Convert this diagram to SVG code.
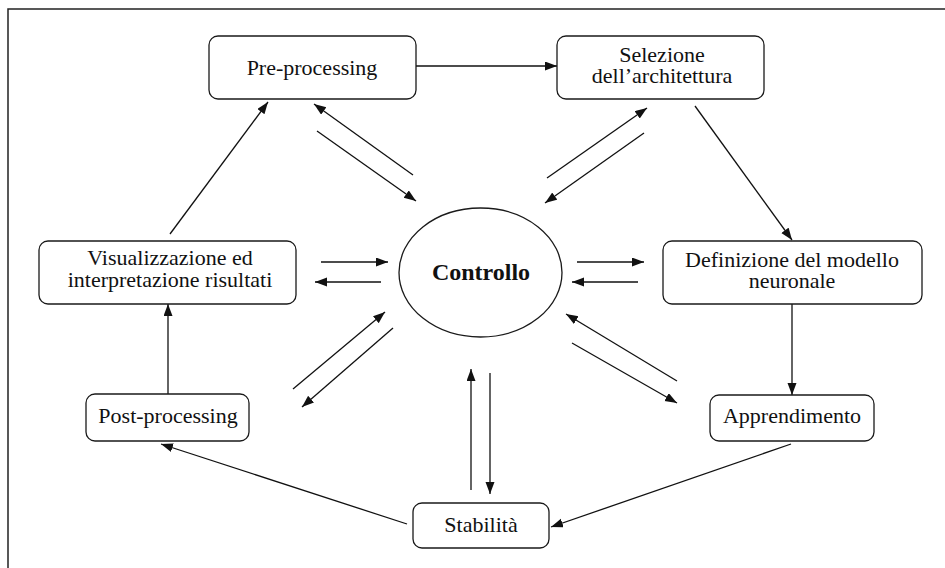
<svg xmlns="http://www.w3.org/2000/svg" width="945" height="568" viewBox="0 0 945 568">
<style>
.box{fill:#fff;stroke:#1a1a1a;stroke-width:1.3}
.t{font-family:"Liberation Serif","Times New Roman",serif;font-size:22px;fill:#111;text-anchor:middle}
.b{font-weight:bold;font-size:24px}
.c{stroke:#111;stroke-width:1.3;fill:none;marker-end:url(#ah)}
</style>
<defs>
<marker id="ah" markerUnits="userSpaceOnUse" markerWidth="13" markerHeight="10" refX="12" refY="4.5" orient="auto">
<path d="M0,0 L12,4.5 L0,9 z" fill="#111"/>
</marker>
</defs>
<rect width="945" height="568" fill="#fff"/>
<path d="M8,568 V9 H945" fill="none" stroke="#222" stroke-width="1.5"/>
<g id="connectors">
<line class="c" x1="416" y1="66" x2="557" y2="66"/>
<line class="c" x1="695" y1="106" x2="792" y2="240"/>
<line class="c" x1="792" y1="304" x2="792" y2="395"/>
<line class="c" x1="791" y1="444" x2="551" y2="527"/>
<line class="c" x1="407" y1="524" x2="161" y2="444"/>
<line class="c" x1="168" y1="394" x2="168" y2="304"/>
<line class="c" x1="170" y1="234" x2="268" y2="102"/>
<line class="c" x1="413" y1="175" x2="314" y2="104"/>
<line class="c" x1="317" y1="131" x2="416" y2="201"/>
<line class="c" x1="547" y1="178" x2="647" y2="108"/>
<line class="c" x1="644" y1="133" x2="545" y2="203"/>
<line class="c" x1="321" y1="262" x2="388" y2="262"/>
<line class="c" x1="381" y1="282" x2="315" y2="282"/>
<line class="c" x1="577" y1="262" x2="644" y2="262"/>
<line class="c" x1="638" y1="282" x2="572" y2="282"/>
<line class="c" x1="293" y1="389" x2="385" y2="312"/>
<line class="c" x1="393" y1="328" x2="302" y2="407"/>
<line class="c" x1="677" y1="381" x2="566" y2="314"/>
<line class="c" x1="572" y1="343" x2="677" y2="403"/>
<line class="c" x1="471" y1="490" x2="471" y2="369"/>
<line class="c" x1="490" y1="373" x2="490" y2="494"/>
</g>
<g id="pre">
<rect class="box" x="209" y="36" width="207" height="63" rx="9"/>
<text class="t" x="312" y="75">Pre-processing</text>
</g>
<g id="sel">
<rect class="box" x="557" y="36" width="207" height="63" rx="9"/>
<text class="t" x="662" y="62">Selezione</text>
<text class="t" x="662" y="83">dell’architettura</text>
</g>
<g id="def">
<rect class="box" x="663" y="241" width="259" height="63" rx="9"/>
<text class="t" x="792" y="267">Definizione del modello</text>
<text class="t" x="792" y="288">neuronale</text>
</g>
<g id="vis">
<rect class="box" x="39" y="241" width="257" height="63" rx="9"/>
<text class="t" x="170" y="265">Visualizzazione ed</text>
<text class="t" x="170" y="287">interpretazione risultati</text>
</g>
<g id="ctrl">
<ellipse class="box" cx="480.5" cy="272.5" rx="81.5" ry="64.5"/>
<text class="t b" x="481" y="280">Controllo</text>
</g>
<g id="post">
<rect class="box" x="86" y="394" width="163" height="47" rx="9"/>
<text class="t" x="168" y="423">Post-processing</text>
</g>
<g id="app">
<rect class="box" x="710" y="395" width="164" height="46" rx="9"/>
<text class="t" x="792" y="423">Apprendimento</text>
</g>
<g id="stab">
<rect class="box" x="413" y="503" width="136" height="45" rx="9"/>
<text class="t" x="481" y="532">Stabilità</text>
</g>
</svg>
